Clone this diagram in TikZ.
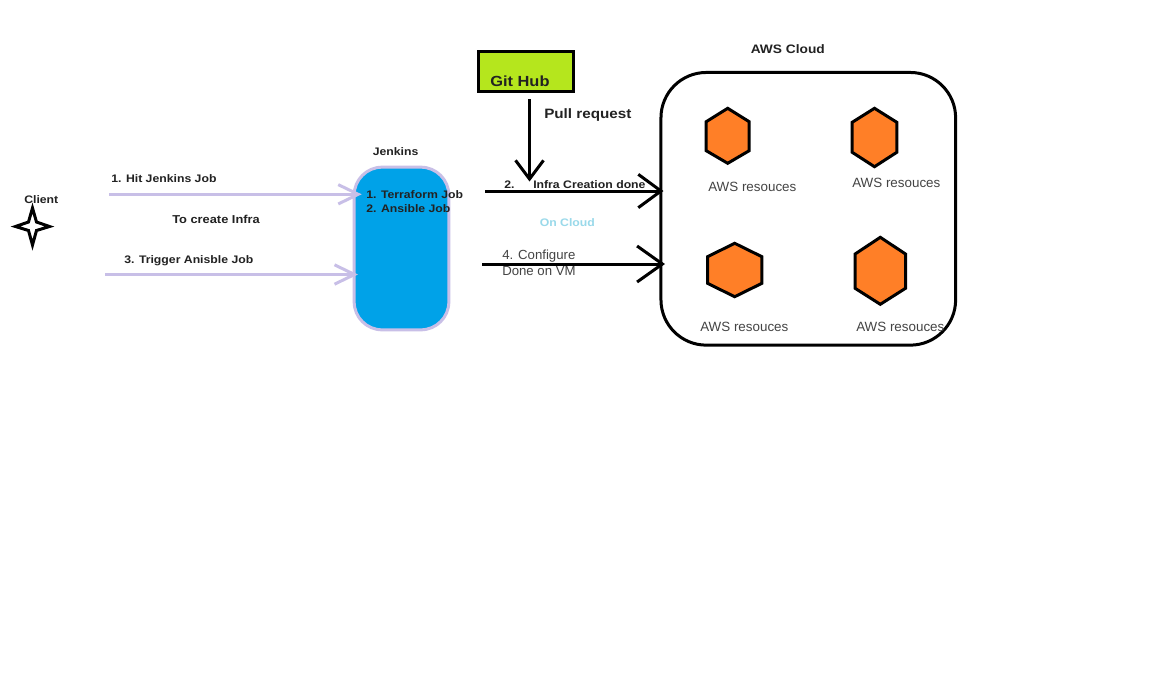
\documentclass[tikz,border=0pt]{standalone}
\usepackage{fontspec}
\setmainfont{Liberation Sans}
\newfontfamily\widefont[FakeStretch=1.12]{Liberation Sans}
\usetikzlibrary{arrows.meta,shapes.geometric}
\definecolor{lav}{HTML}{C8BFE7}
\definecolor{jblue}{HTML}{00A2E8}
\definecolor{lime}{HTML}{B5E61D}
\definecolor{hexor}{HTML}{FF7F27}
\definecolor{ink}{HTML}{222222}
\definecolor{soft}{HTML}{444444}
\definecolor{cloudb}{HTML}{99D9EA}
\tikzset{
  px/.style={line width=#1*0.75pt},
  lbl/.style={anchor=west,inner sep=0pt,text=ink,font=\widefont\bfseries\fontsize{8.2}{10}\selectfont},
  res/.style={anchor=west,inner sep=0pt,text=soft,font=\fontsize{10.05}{12}\selectfont},
  lavarrow/.style={draw=lav,px=3,-{Straight Barb[length=15pt,width=14.5pt]}},
  blackarrow/.style={draw=black,px=3,-{Straight Barb[length=#1]}},
  boxshape/.style={draw,px=3,inner sep=0pt},
  hexshape/.style={draw=black,fill=hexor,px=3,line join=miter},
}
\begin{document}
\begin{tikzpicture}[x=0.75pt,y=-0.75pt]
\useasboundingbox[fill=white] (0,0) rectangle (1165,686);

% AWS cloud
\node[boxshape,draw=black,rounded corners=34pt,minimum width=221pt,minimum height=204.5pt] (cloud) at (808.3,208.8) {};
% hexagons
\draw[hexshape] (727.7,108.3) -- (749.2,121.7) -- (749.2,150.7) -- (727.7,163.3) -- (706.2,150.7) -- (706.2,121.7) -- cycle;
\draw[hexshape] (874.5,108.3) -- (896.8,122.3) -- (896.8,152.3) -- (874.5,166.7) -- (852.2,152.3) -- (852.2,122.3) -- cycle;
\draw[hexshape] (734.7,243.3) -- (761.9,256.7) -- (761.9,283.3) -- (734.7,296.7) -- (707.5,283.3) -- (707.5,256.7) -- cycle;
\draw[hexshape] (880.3,237.3) -- (905.5,254) -- (905.5,288.3) -- (880.3,304.3) -- (855.1,288.3) -- (855.1,254) -- cycle;

% Jenkins
\node[boxshape,draw=lav,fill=jblue,rounded corners=21pt,minimum width=71pt,minimum height=122pt] (jenkins) at (401.5,248.5) {};

% GitHub
\node[boxshape,draw=black,fill=lime,minimum width=71pt,minimum height=30pt] (github) at (526,71.5) {};

% star
\draw[px=3,draw=black,fill=white,line join=miter] (32.5,208) -- (36.5,222) -- (49.5,226.5) -- (36.5,230.5) -- (32.5,245) -- (28.5,230.5) -- (15.5,226.5) -- (28.5,222) -- cycle;

% coordinates
\coordinate (a1s) at (109,194.3);
\coordinate (a1e) at (361.7,194.3);
\coordinate (a3s) at (105,274.5);
\coordinate (a3e) at (358,274.5);
\coordinate (a2s) at (485,191);
\coordinate (a2e) at (663.5,191);
\coordinate (a4s) at (482,264);
\coordinate (a4e) at (665,264);
\coordinate (prs) at (529.5,99);
\coordinate (pre) at (529.5,181.5);

% connectors
\draw[lavarrow] (a1s) -- (a1e);
\draw[lavarrow] (a3s) -- (a3e);

% labels under black connectors
\node[anchor=west,inner sep=0pt,text=soft,font=\fontsize{9.9}{12.3}\selectfont,align=left] (cfg) at (502,262.5) {4. Configure\\Done on VM};

\draw[blackarrow={17pt,width=25pt}] (a2s) -- (a2e);
\draw[blackarrow={19pt,width=27pt}] (a4s) -- (a4e);
\draw[blackarrow={14pt,width=21pt}] (prs) -- (pre);

% labels
\node[lbl] (client) at (24,199.5) {Client};
\node[lbl] (hit) at (111,178.5) {1. Hit Jenkins Job};
\node[lbl,font=\widefont\bfseries\fontsize{8.6}{10}\selectfont] (toc) at (172,219.5) {To create Infra};
\node[lbl] (trig) at (124,261) {3. Trigger Anisble Job};
\node[lbl] (jl) at (372.5,151.5) {Jenkins};
\node[lbl] (j1) at (366,194.5) {1. Terraform Job};
\node[lbl] (j2) at (366,209) {2. Ansible Job};
\node[lbl,font=\widefont\bfseries\fontsize{11}{13}\selectfont] (gh) at (490,81) {Git Hub};
\node[lbl,font=\widefont\bfseries\fontsize{10.2}{12}\selectfont] (pull) at (544,114.5) {Pull request};
\node[lbl] (two) at (504,184.5) {2.};
\node[lbl] (infra) at (533,184.5) {Infra Creation done};
\node[lbl,text=cloudb] (onc) at (539.5,222.5) {On Cloud};
\node[lbl,font=\widefont\bfseries\fontsize{9.2}{12}\selectfont] (aws) at (750.5,49.5) {AWS Cloud};
\node[res] (r1) at (708,186.5) {AWS resouces};
\node[res] (r2) at (852,182.5) {AWS resouces};
\node[res] (r3) at (700,326.5) {AWS resouces};
\node[res] (r4) at (856,326.5) {AWS resouces};
\end{tikzpicture}
\end{document}
